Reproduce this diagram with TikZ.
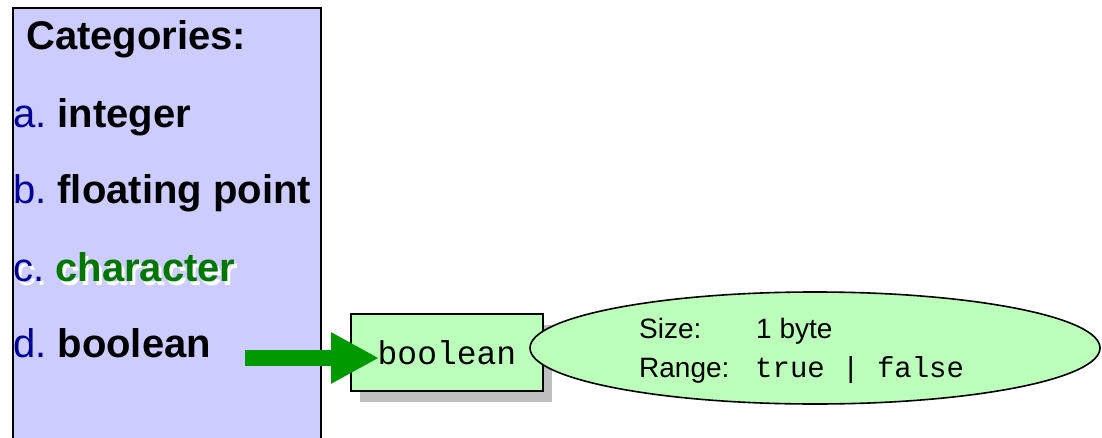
\documentclass[tikz,border=0pt]{standalone}
\usepackage{fontspec}
\setmainfont{Liberation Sans}
\setmonofont{Liberation Mono}
\usetikzlibrary{arrows.meta,shapes.geometric,shadows}
\definecolor{panelfill}{RGB}{204,204,255}
\definecolor{letterblue}{RGB}{0,0,153}
\definecolor{chargreen}{RGB}{0,119,0}
\definecolor{arrowgreen}{RGB}{0,153,0}
\definecolor{boxfill}{RGB}{187,255,187}
\definecolor{shadowgray}{RGB}{191,191,191}
\tikzset{
  itemtext/.style={anchor=base west, inner sep=0pt, font=\fontsize{40}{42}\selectfont},
  infotext/.style={anchor=base west, inner sep=0pt, font=\fontsize{28}{30}\selectfont},
  monotext/.style={anchor=base west, inner sep=0pt, font=\fontsize{29}{31}\selectfont\ttfamily},
  typebox/.style={draw=black, line width=2pt, fill=boxfill, minimum width=192pt, minimum height=77pt,
    inner sep=0pt, font=\fontsize{33}{35}\selectfont\ttfamily,
    general shadow={shadow xshift=9pt, shadow yshift=-11pt, fill=shadowgray}},
  infoellipse/.style={ellipse, draw=black, line width=1.6pt, fill=boxfill, minimum width=570pt,
    minimum height=112pt, inner sep=0pt},
  bigarrow/.style={line width=16pt, draw=arrowgreen, -{Triangle[length=48pt,width=48pt]}},
}
\begin{document}
\begin{tikzpicture}[x=1pt,y=-1pt]
\useasboundingbox (0,0) rectangle (1102,438);
% left panel
\filldraw[fill=panelfill, draw=black, line width=2pt] (13,8) rectangle (321,445);
\node[itemtext] (cat) at (26,50) {\bfseries Categories:};
\node[itemtext] (ia) at (13,128) {\color{letterblue}a.\ \color{black}\bfseries integer};
\node[itemtext] (ib) at (13,204) {\color{letterblue}b.\ \color{black}\bfseries floating point};
\node[itemtext, text=white] (icshadow) at (16,285) {c.\ \bfseries character};
\node[itemtext] (ic) at (13,281) {\color{letterblue}c.\ \color{chargreen}\bfseries character};
\node[itemtext] (id) at (13,357) {\color{letterblue}d.\ \color{black}\bfseries boolean};
% type box
\node[typebox] (box) at (447,352.5) {boolean};
% info ellipse
\node[infoellipse] (info) at (815,348) {};
\node[infotext] (sizel) at (639,338) {Size:};
\node[infotext] (sizev) at (756,338) {1 byte};
\node[infotext] (rangel) at (639,377) {Range:};
\node[monotext] (rangev) at (755,377) {true | false};
% arrow
\coordinate (tail) at (245,358);
\coordinate (tip) at (379,358);
\draw[bigarrow] (tail) -- (tip);
\end{tikzpicture}
\end{document}
